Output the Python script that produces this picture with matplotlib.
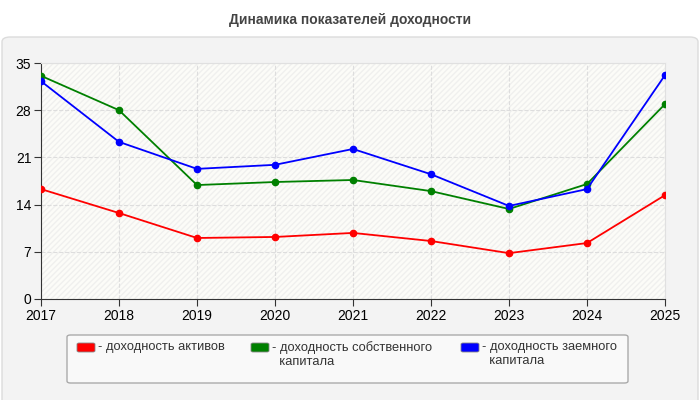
import matplotlib.pyplot as plt
from matplotlib.patches import FancyBboxPatch, Rectangle

plt.rcParams['font.family'] = ['Liberation Sans', 'DejaVu Sans']

years = ['2017', '2018', '2019', '2020', '2021', '2022', '2023', '2024', '2025']
assets = [16.3, 12.75, 9.05, 9.2, 9.8, 8.6, 6.8, 8.3, 15.4]
equity = [33.1, 28.0, 16.9, 17.35, 17.65, 16.0, 13.35, 17.05, 28.9]
borrowed = [32.3, 23.3, 19.3, 19.9, 22.25, 18.5, 13.8, 16.3, 33.2]
labels = ['- доходность активов', '- доходность собственного\n  капитала',
          '- доходность заемного\n  капитала']
colors = ['#ff0000', '#008000', '#0000ff']
yticks = [0, 7, 14, 21, 28, 35]

fig = plt.figure(figsize=(7, 4), dpi=100)
fig.patch.set_facecolor('white')

# outer panel
fig.patches.append(FancyBboxPatch((2 / 700, -0.05), 696 / 700, 1 - 37 / 400 + 0.05,
                                  boxstyle='round,pad=0,rounding_size=0.012',
                                  transform=fig.transFigure, facecolor='#f3f3f3',
                                  edgecolor='#dcdcdc', linewidth=1, zorder=-10))

fig.text(0.5, 1 - 20 / 400, 'Динамика показателей доходности', ha='center', va='center',
         fontsize=10, fontweight='bold', color='#444444')

ax = fig.add_axes([41 / 700, 1 - 299 / 400, 624 / 700, 236 / 400])
ax.set_facecolor('#fcfcf8')
ax.add_patch(Rectangle((0, 0), 1, 1, transform=ax.transAxes, facecolor='none',
                       edgecolor='#f0f0ee', hatch='//////', linewidth=0, zorder=0))

x = range(len(years))
for vals, c in zip([assets, equity, borrowed], colors):
    ax.plot(x, vals, '-o', color=c, linewidth=1.3, markersize=4.5, zorder=3)

ax.set_xlim(0, len(years) - 1)
ax.set_ylim(0, 35)
ax.set_xticks(list(x))
ax.set_xticklabels(years)
ax.set_yticks(yticks)
ax.grid(color='#dddddd', linestyle='--', linewidth=0.8)
ax.set_axisbelow(True)
ax.tick_params(labelsize=10, length=5, color='#333333', pad=2)
for s in ['top', 'right']:
    ax.spines[s].set_color('#e0e0e0')
for s in ['left', 'bottom']:
    ax.spines[s].set_color('#333333')

# legend
fig.patches.append(FancyBboxPatch((67 / 700, 1 - 383 / 400), 561 / 700, 48 / 400,
                                  boxstyle='round,pad=0,rounding_size=0.005',
                                  transform=fig.transFigure, facecolor='#f9f9f9',
                                  edgecolor='#aaaaaa', linewidth=1, zorder=1))
lx = [77, 251, 461]
for px, lab, c in zip(lx, labels, colors):
    fig.patches.append(FancyBboxPatch((px / 700, 1 - 352 / 400), 18 / 700, 9 / 400,
                                      boxstyle='round,pad=0,rounding_size=0.003',
                                      transform=fig.transFigure, facecolor=c,
                                      edgecolor='#888888', linewidth=0.6, zorder=2))
    fig.text((px + 21) / 700, 1 - 341 / 400, lab, ha='left', va='top', fontsize=9.3,
             color='#333333', linespacing=1.2)

plt.savefig('out.png', dpi=100, facecolor=fig.get_facecolor())
